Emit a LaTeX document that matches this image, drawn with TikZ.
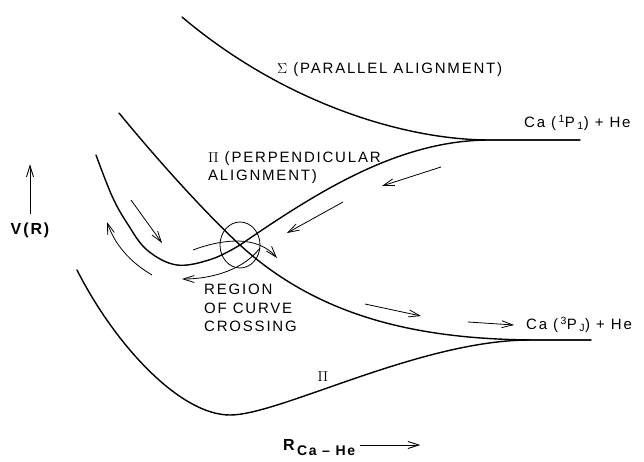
\documentclass[tikz,border=0pt]{standalone}
\usepackage{fontspec}
\setmainfont{Liberation Sans}
\newfontfamily\labfont[LetterSpace=12]{Liberation Sans}
\usetikzlibrary{arrows.meta}

\begin{document}
\begin{tikzpicture}[x=1pt,y=-1pt,
  pot/.style={line width=1.4pt, line cap=round},
  flow/.style={line width=0.8pt, -{Straight Barb[length=11pt,width=7pt]}},
  lab/.style={font=\labfont\fontsize{15}{18.5}\selectfont, inner sep=0pt, align=left},
  axlab/.style={font=\labfont\fontsize{16}{18}\selectfont\bfseries, inner sep=0pt}]
  \useasboundingbox (0,0) rectangle (644,461);

  % Sigma curve
  \draw[pot] (182,17) .. controls (280,100) and (400,140) .. (490,140) -- (580,140);

  % Pi (perpendicular) curve
  \draw[pot] plot[smooth, tension=0.6] coordinates {(96,155) (112,196) (127,223) (147,250)
    (177,265) (212,259) (240,245)} .. controls (320,190) and (400,140) .. (490,140) -- (580,140);

  % Crossing curve
  \draw[pot] (119,113) .. controls (170,175) and (215,222) .. (240,245)
    .. controls (320,318) and (420,340) .. (540,340) -- (591,340);

  % Lower Pi curve
  \draw[pot] (77,270) .. controls (115,345) and (180,415) .. (230,415)
    .. controls (280,415) and (420,340) .. (530,340) -- (591,340);

  % Region of crossing
  \draw[line width=0.8pt] (240,245) ellipse [x radius=20, y radius=23];

  % Flow arrows
  \draw[flow] (131,200) -- (162,243);
  \draw[flow] (152,275) .. controls (130,262) and (115,245) .. (107,222);
  \draw[flow] (193,250) .. controls (225,238) and (258,236) .. (277,258);
  \draw[flow] (260,248) .. controls (245,268) and (215,279) .. (182,279);
  \draw[flow] (441,167) -- (382,186);
  \draw[flow] (343,202) -- (287,233);
  \draw[flow] (365,304) -- (421,316);

  % Labels
  \node[lab, anchor=west] (sig) at (277,70) {$\Sigma$ (PARALLEL ALIGNMENT)};
  \node[lab, anchor=north west] (piperp) at (208,151) {$\Pi$ (PERPENDICULAR\\ALIGNMENT)};
  \node[lab, anchor=north west] (region) at (204,284) {REGION\\OF CURVE\\CROSSING};
  \node[lab] (pilow) at (323,377) {$\Pi$};
  \node[lab, anchor=west] (ca1) at (524,123) {Ca (\,\textsuperscript{1}P\,\textsubscript{1}) + He};
  \node[lab, anchor=west] (ca3) at (526,325) {Ca (\,\textsuperscript{3}P\,\textsubscript{J}) + He};
  \draw[flow] (468,322) -- ([xshift=-12pt]ca3.west);

  % Axes
  \node[axlab] (vr) at (30,230) {V(R)};
  \draw[flow, line width=0.9pt] ([yshift=8pt]vr.north) -- ++(0,-50);
  \node[axlab, anchor=base west] (rlab) at (283,450) {R\raisebox{-5pt}{\fontsize{14}{14}\selectfont\,Ca – He}};
  \draw[flow, line width=0.9pt] ([xshift=5pt, yshift=5pt]rlab.base east) -- ++(60,0);
\end{tikzpicture}
\end{document}
